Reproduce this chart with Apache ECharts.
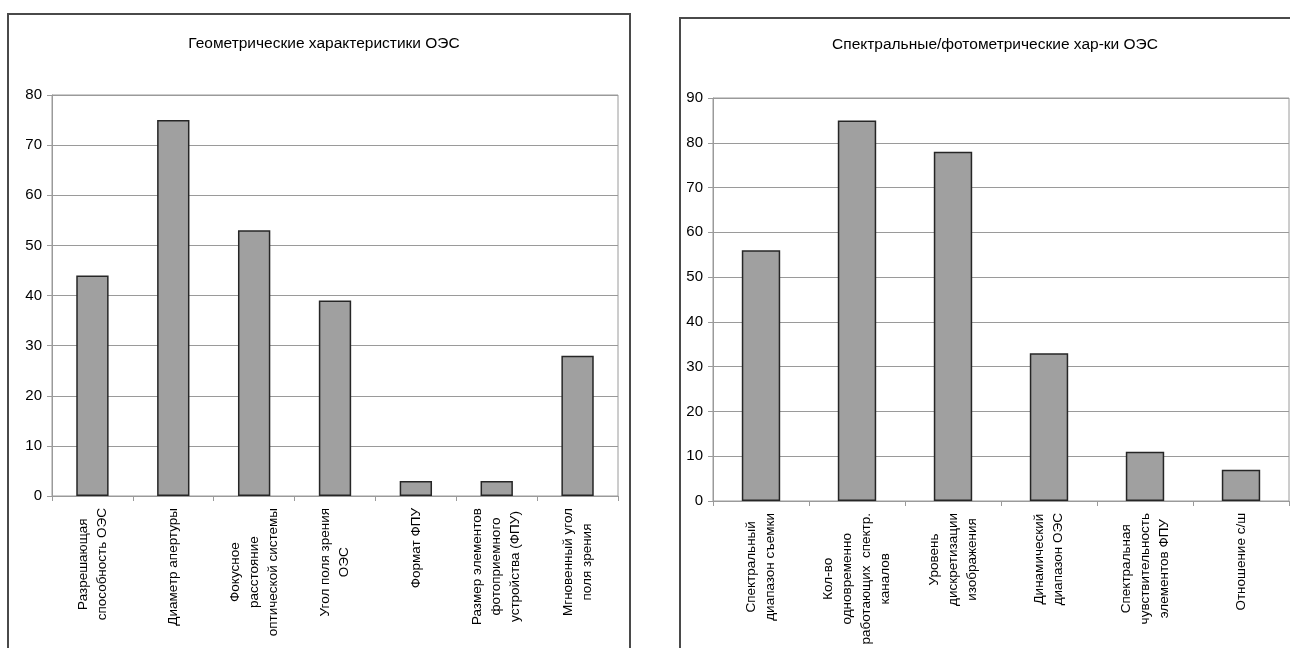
<!DOCTYPE html>
<html>
<head>
<meta charset="utf-8">
<script src="https://cdn.jsdelivr.net/npm/echarts@6/dist/echarts.min.js"></script>
<style>
  html, body { margin: 0; padding: 0; background: #fff; }
  #chart { width: 1290px; height: 648px; }
</style>
</head>
<body>
<div id="chart"></div>
<script>
// Geometric characteristics
const geoTitle = 'Геометрические характеристики ОЭС';
const geoCategories = [
  'Разрешающая\nспособность ОЭС',
  'Диаметр апертуры',
  'Фокусное\nрасстояние\nоптической системы',
  'Угол поля зрения\nОЭС',
  'Формат ФПУ',
  'Размер элементов\nфотоприемного\nустройства (ФПУ)',
  'Мгновенный угол\nполя зрения'
];
const geoValues = [44, 75, 53, 39, 3, 3, 28];
const geoTicks = { min: 0, max: 80, step: 10 };

// Spectral / photometric characteristics
const specTitle = 'Спектральные/фотометрические хар-ки ОЭС';
const specCategories = [
  'Спектральный\nдиапазон съемки',
  'Кол-во\nодновременно\nработающих  спектр.\nканалов',
  'Уровень\nдискретизации\nизображения',
  'Динамический\nдиапазон ОЭС',
  'Спектральная\nчувствительность\nэлементов ФПУ',
  'Отношение с/ш'
];
const specValues = [56, 85, 78, 33, 11, 7];
const specTicks = { min: 0, max: 90, step: 10 };

const FONT = '"Liberation Sans", Arial, sans-serif';
const GRID_GRAY = '#9a9a9a';

function xAxisFor(gridIndex, categories) {
  return {
    type: 'category',
    gridIndex: gridIndex,
    data: categories,
    boundaryGap: true,
    axisLine: { show: true, lineStyle: { color: GRID_GRAY, width: 1 } },
    axisTick: { show: true, alignWithLabel: false, length: 5, lineStyle: { color: GRID_GRAY } },
    splitLine: { show: false },
    axisLabel: {
      interval: 0,
      rotate: 90,
      margin: 12,
      formatter: function (v) {
        return v.split('\n').map(function (s) { return '{c|' + s + '}'; }).join('\n');
      },
      rich: {
        c: { align: 'center', fontSize: 13.5, lineHeight: 19, fontFamily: FONT, color: '#000' }
      }
    }
  };
}

function yAxisFor(gridIndex, ticks) {
  return {
    type: 'value',
    gridIndex: gridIndex,
    min: ticks.min,
    max: ticks.max,
    interval: ticks.step,
    axisLine: { show: true, lineStyle: { color: GRID_GRAY, width: 1 } },
    axisTick: { show: true, length: 5, lineStyle: { color: GRID_GRAY } },
    splitLine: { show: true, lineStyle: { color: GRID_GRAY, width: 1 } },
    axisLabel: { fontSize: 15, fontFamily: FONT, color: '#000', margin: 10 }
  };
}

function barSeries(index, values) {
  return {
    type: 'bar',
    xAxisIndex: index,
    yAxisIndex: index,
    data: values,
    barWidth: '40%',
    itemStyle: { color: '#a0a0a0', borderColor: '#262626', borderWidth: 1.5 },
    emphasis: { disabled: true },
    animation: false
  };
}

const chart = echarts.init(document.getElementById('chart'), null, { renderer: 'canvas' });

chart.setOption({
  backgroundColor: '#fff',
  animation: false,
  title: [
    {
      text: geoTitle, left: 319, top: 31, textAlign: 'center',
      textStyle: { fontSize: 15.5, fontWeight: 'normal', fontFamily: FONT, color: '#000' }
    },
    {
      text: specTitle, left: 990, top: 32, textAlign: 'center',
      textStyle: { fontSize: 15.5, fontWeight: 'normal', fontFamily: FONT, color: '#000' }
    }
  ],
  graphic: [
    { type: 'rect', shape: { x: 8, y: 14, width: 622, height: 660 },
      style: { fill: 'none', stroke: '#4a4a4a', lineWidth: 2 }, silent: true, z: -1 },
    { type: 'rect', shape: { x: 680, y: 18, width: 640, height: 660 },
      style: { fill: 'none', stroke: '#4a4a4a', lineWidth: 2 }, silent: true, z: -1 }
  ],
  grid: [
    { left: 52, top: 95, right: 672, bottom: 152, show: true, borderColor: GRID_GRAY, borderWidth: 1, backgroundColor: 'transparent' },
    { left: 713, top: 98, right: 1, bottom: 147, show: true, borderColor: GRID_GRAY, borderWidth: 1, backgroundColor: 'transparent' }
  ],
  xAxis: [xAxisFor(0, geoCategories), xAxisFor(1, specCategories)],
  yAxis: [yAxisFor(0, geoTicks), yAxisFor(1, specTicks)],
  series: [barSeries(0, geoValues), barSeries(1, specValues)]
});
</script>
</body>
</html>
